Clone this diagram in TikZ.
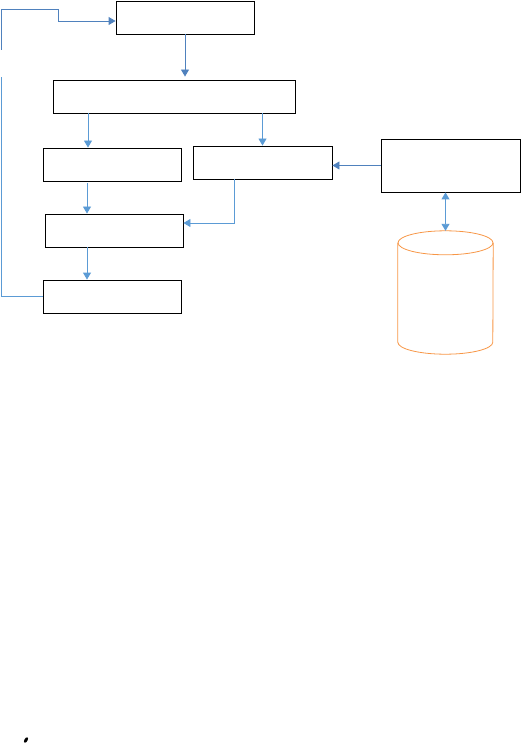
\documentclass[tikz,border=0pt]{standalone}
\usepackage{tikz}
\usetikzlibrary{arrows.meta,positioning,calc}

\definecolor{lineblue}{RGB}{79,129,189}
\definecolor{lightblue}{RGB}{91,155,213}
\definecolor{dborange}{RGB}{247,150,70}

\begin{document}
\begin{tikzpicture}[
    x=1pt, y=-1pt,
    box/.style={draw, rectangle, line width=0.9pt, minimum width=138pt, minimum height=33pt, inner sep=0pt},
    conn/.style={draw, lightblue, line width=0.9pt, -{Triangle[width=8pt,length=7pt]}},
    conndark/.style={conn, lineblue},
    store/.style={draw=dborange, line width=0.8pt}
]
    \useasboundingbox (0,0) rectangle (521,743);

    % Boxes
    \node[box] (topbox) at (185,17.5) {};
    \node[box, minimum width=242pt] (widebox) at (174,96.5) {};
    \node[box] (leftbox) at (112,164.5) {};
    \node[box, minimum width=139pt] (rightbox) at (262.5,162.5) {};
    \node[box] (midbox) at (114,230.5) {};
    \node[box] (lowbox) at (112,296.5) {};
    \node[box, minimum width=139pt, minimum height=53pt] (sidebox) at (450.5,165.5) {};

    % Data store (cylinder)
    \node[minimum width=95pt, minimum height=123pt, inner sep=0pt] (db) at (445.5,292.5) {};
    \draw[store] ([yshift=-12pt]db.north) ellipse (47.5pt and 12pt);
    \draw[store] ([yshift=-12pt]db.north west) -- ([yshift=12pt]db.south west)
        arc (180:0:47.5 and 12) -- ([yshift=-12pt]db.north east);

    % Feedback loop
    \coordinate (loopa) at (1,77);
    \coordinate (loopb) at (1,50);
    \draw[lightblue, line width=0.9pt] (lowbox.west) -| (loopa);
    \path[conndark] (loopb) -- (1,9) -- (58,9) |- ([yshift=-3.5pt]topbox.west);

    % Connections
    \path[conndark] (topbox.south) -- ([yshift=3pt]widebox.north -| topbox.south);
    \path[conn] (widebox.south -| 88,0) -- (leftbox.north -| 88,0);
    \path[conn] (widebox.south -| rightbox.north) -- (rightbox.north);
    \path[conn] ([yshift=-2pt]leftbox.south -| 87,0) -- (midbox.north -| 87,0);
    \path[conn] (rightbox.south -| 234,0) |- ([yshift=7.5pt]midbox.east);
    \path[conn] (midbox.south -| 87,0) -- (lowbox.north -| 87,0);
    \path[conndark] (sidebox.west) -- (sidebox.west -| rightbox.east);
    \path[conn, {Triangle[width=8pt,length=7pt]}-{Triangle[width=8pt,length=7pt]}] (sidebox.south -| db.north) -- (db.north);

    % stray mark
    \fill[rotate around={60:(26,740)}] (26,740) ellipse (3pt and 1.6pt);
\end{tikzpicture}
\end{document}
